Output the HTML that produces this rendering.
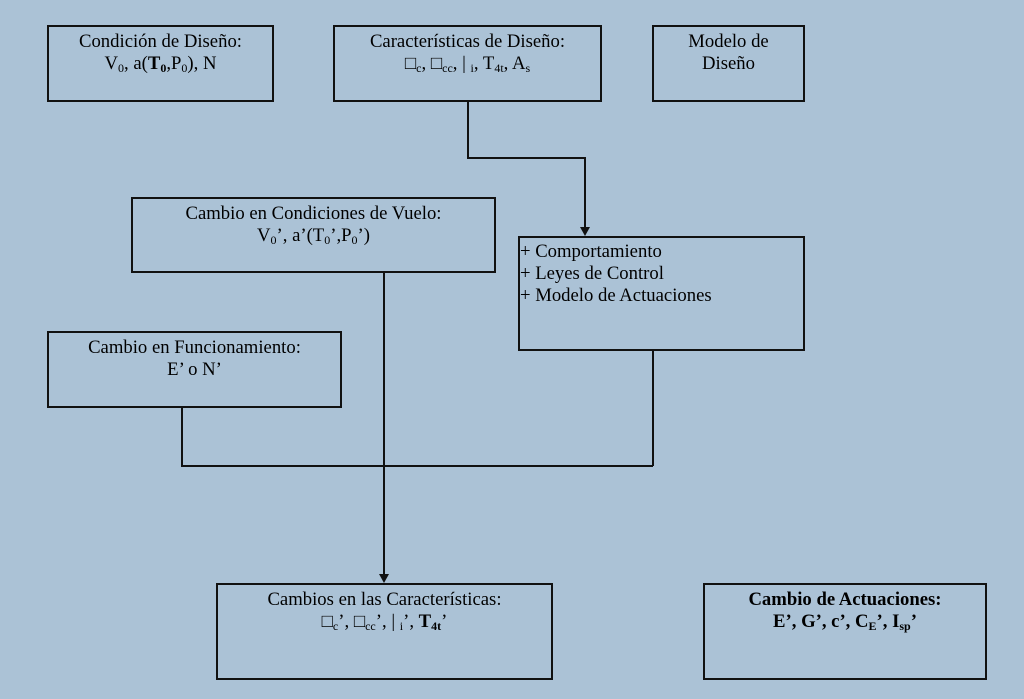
<!DOCTYPE html>
<html><head><meta charset="utf-8"><style>
body{margin:0;width:1024px;height:699px;background:#abc2d6;position:relative;overflow:hidden;font-family:"Liberation Serif",serif;font-size:18.7px;color:#000}
.b{position:absolute;border:2px solid #111;box-sizing:border-box;text-align:center;line-height:22px;padding-top:4px}
.l{position:absolute;background:#111}
sub{font-size:12px;vertical-align:-3px;line-height:0}
</style></head><body>
<div class="b" style="left:47px;top:25px;width:227px;height:77px">Condición de Diseño:<br>V<sub>0</sub>, a(<b>T<sub>0</sub></b>,P<sub>0</sub>), N</div>
<div class="b" style="left:333px;top:25px;width:269px;height:77px">Características de Diseño:<br>□<sub>c</sub>, □<sub>cc</sub>, | <sub>i</sub>, T<sub>4t</sub>, A<sub>s</sub></div>
<div class="b" style="left:652px;top:25px;width:153px;height:77px">Modelo de<br>Diseño</div>
<div class="b" style="left:131px;top:197px;width:365px;height:76px">Cambio en Condiciones de Vuelo:<br>V<sub>0</sub>’, a’(T<sub>0</sub>’,P<sub>0</sub>’)</div>
<div class="b" style="left:518px;top:236px;width:287px;height:115px;text-align:left;padding-top:3px">+ Comportamiento<br>+ Leyes de Control<br>+ Modelo de Actuaciones</div>
<div class="b" style="left:47px;top:331px;width:295px;height:77px">Cambio en Funcionamiento:<br>E’ o N’</div>
<div class="b" style="left:216px;top:583px;width:337px;height:97px">Cambios en las Características:<br>□<sub>c</sub>’, □<sub>cc</sub>’, | <sub>i</sub>’, <b>T<sub>4t</sub></b>’</div>
<div class="b" style="left:703px;top:583px;width:284px;height:97px;font-weight:bold">Cambio de Actuaciones:<br>E’, G’, c’, C<sub>E</sub>’, I<sub>sp</sub>’</div>
<div class="l" style="left:467px;top:102px;width:1.5px;height:56px"></div>
<div class="l" style="left:467px;top:157px;width:118px;height:1.5px"></div>
<div class="l" style="left:584px;top:157px;width:1.5px;height:72px"></div>
<svg style="position:absolute;left:580px;top:227px" width="10" height="10"><polygon points="0,0 10,0 5,9" fill="#111"/></svg>
<div class="l" style="left:383px;top:273px;width:1.5px;height:304px"></div>
<svg style="position:absolute;left:379px;top:574px" width="10" height="10"><polygon points="0,0 10,0 5,9" fill="#111"/></svg>
<div class="l" style="left:181px;top:408px;width:1.5px;height:58px"></div>
<div class="l" style="left:181px;top:465px;width:472px;height:1.5px"></div>
<div class="l" style="left:652px;top:351px;width:1.5px;height:115px"></div>
</body></html>
